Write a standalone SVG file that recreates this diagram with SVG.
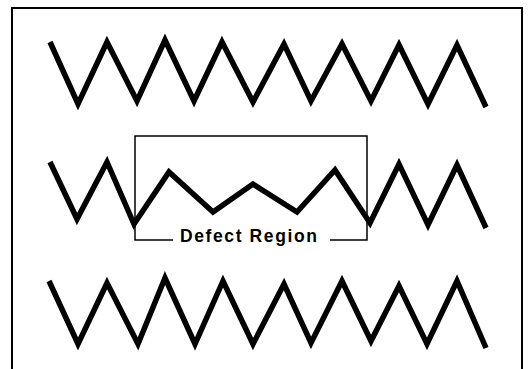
<svg xmlns="http://www.w3.org/2000/svg" width="529" height="369" viewBox="0 0 529 369">
<style>
.frame{fill:none;stroke:#000;stroke-width:2}
.zig{fill:none;stroke:#000;stroke-width:5.5;stroke-linejoin:miter;stroke-miterlimit:10;stroke-linecap:butt}
.br{fill:none;stroke:#000;stroke-width:1.5}
.lbl{font-family:"Liberation Sans",Arial,sans-serif;font-weight:bold;font-size:17.5px;fill:#000}
</style>
<rect width="529" height="369" fill="#fff"/>
<path class="frame" d="M12,369 V8 H522 V369"/>
<g id="row1">
<polyline class="zig" points="50,42 78,104 107,42 137,101 165,40 194,101 222,42 253,102 284,44 311,101 342,44 371,101 399,45 428,104 457,45 486,107"/>
</g>
<g id="row2">
<polyline class="zig" points="50,162 77,219 107,162 134,224 169,172 213,212 253,184 297,212 335,170 370,223 399,164 428,225 457,165 486,228"/>
</g>
<g id="row3">
<polyline class="zig" points="49,281 78,344 107,283 138,344 165,278 195,344 223,281 253,344 284,284 311,343 342,281 371,341 399,286 427,344 457,281 486,348"/>
</g>
<g id="defect-region">
<path class="br" d="M173,240 H135 V136 H367 V240 H330"/>
<text class="lbl" x="180" y="242" textLength="137" lengthAdjust="spacing">Defect Region</text>
</g>
</svg>
